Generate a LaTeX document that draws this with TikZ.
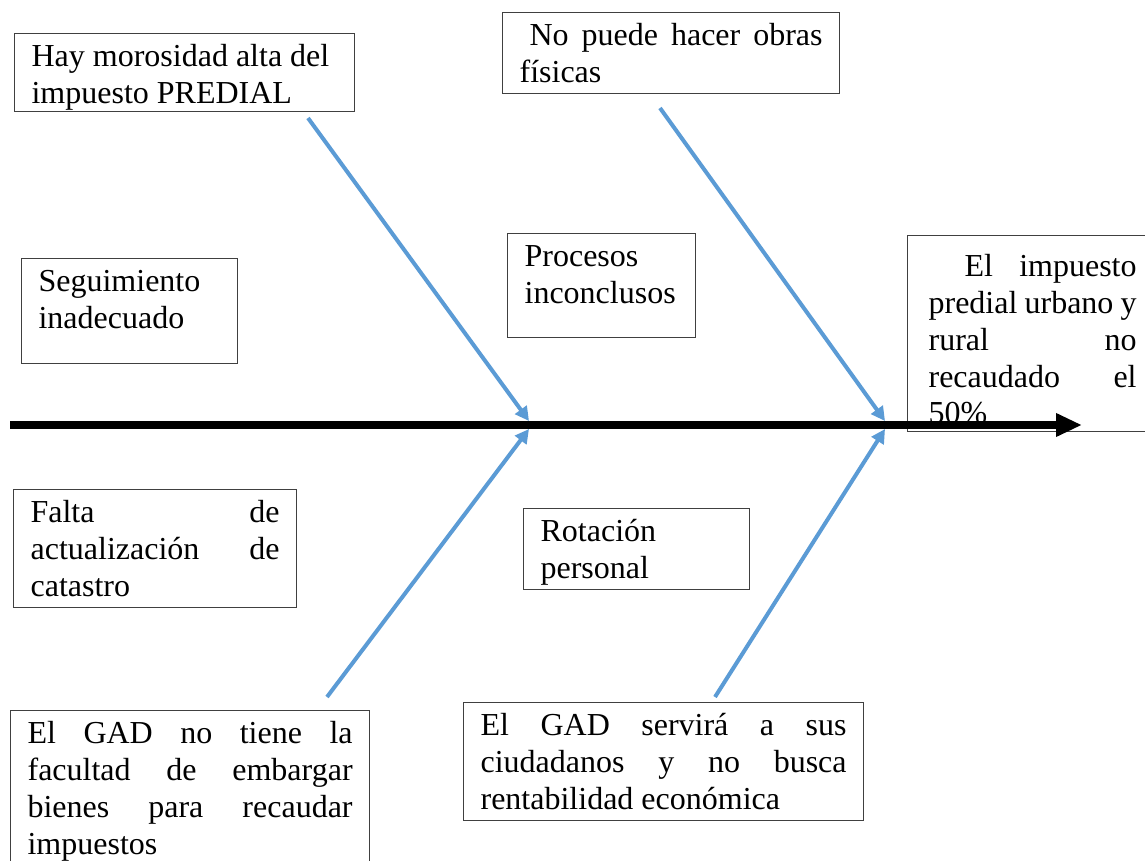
\documentclass[tikz,border=0pt]{standalone}
\usepackage{fontspec}
\setmainfont{Liberation Serif}
\usetikzlibrary{arrows.meta}
\definecolor{causeblue}{RGB}{91,155,213}
\newcommand{\boxtext}[4][16.5pt]{\parbox[c][#3][t]{#2}{\rule{0pt}{#1}#4}}
\tikzset{
  causebox/.style={draw=black!75, line width=0.6pt, anchor=north west, inner xsep=8.5pt, inner ysep=0pt, font=\fontsize{16}{18.4}\selectfont},
  causearrow/.style={draw=causeblue, line width=2pt, -{Triangle[length=7pt,width=7pt]}},
  spine/.style={line width=4pt, -{Triangle[length=13pt,width=11pt]}}
}
\begin{document}
\begin{tikzpicture}[x=0.5pt,y=-0.5pt]
        \useasboundingbox (0,0) rectangle (1145,861);

        \node[causebox] (morosidad) at (14,33) {\boxtext{153pt}{39pt}{Hay morosidad alta del\\ impuesto PREDIAL}};
        \node[causebox] (obras) at (502,12) {\boxtext{151.5pt}{40.5pt}{\hspace*{5pt}No puede hacer obras\linebreak físicas}};
        \node[causebox] (seguimiento) at (21,258) {\boxtext{91pt}{52.5pt}{Seguimiento\\ inadecuado}};
        \node[causebox] (procesos) at (507,233) {\boxtext{77pt}{52pt}{Procesos\\ inconclusos}};
        \node[causebox, inner xsep=10.5pt] (efecto) at (907,235) {\boxtext[20.5pt]{104pt}{98pt}{\hspace*{18pt}El impuesto\linebreak predial urbano y\linebreak rural no\linebreak recaudado el\linebreak 50\%}};
        \node[causebox] (falta) at (13,489) {\boxtext{124.5pt}{59pt}{Falta de\linebreak actualización de\linebreak catastro}};
        \node[causebox] (rotacion) at (523,508) {\boxtext{96pt}{40.5pt}{Rotación\\ personal}};
        \node[causebox] (embargo) at (10,710) {\boxtext{162.5pt}{80pt}{El GAD no tiene la\linebreak facultad de embargar\linebreak bienes para recaudar\linebreak impuestos}};
        \node[causebox] (servicio) at (463,702) {\boxtext{183pt}{59pt}{El GAD servirá a sus\linebreak ciudadanos y no busca\linebreak rentabilidad económica}};

        \coordinate (spinestart) at (10,425);
        \coordinate (spineend) at (1082,425);
        \coordinate (jointleft) at (529,425);
        \coordinate (jointright) at (885,425);
        \coordinate (tailmorosidad) at (308,118);
        \coordinate (tailobras) at (660,108);
        \coordinate (tailembargo) at (327,697);
        \coordinate (tailservicio) at (715,697);

        \draw[causearrow] (tailmorosidad) -- ([yshift=2pt]jointleft);
        \draw[causearrow] (tailobras) -- ([yshift=2pt]jointright);
        \draw[causearrow] (tailembargo) -- ([yshift=-2pt]jointleft);
        \draw[causearrow] (tailservicio) -- ([yshift=-2pt]jointright);
        \draw[spine] (spinestart) -- (spineend);

\end{tikzpicture}
\end{document}
